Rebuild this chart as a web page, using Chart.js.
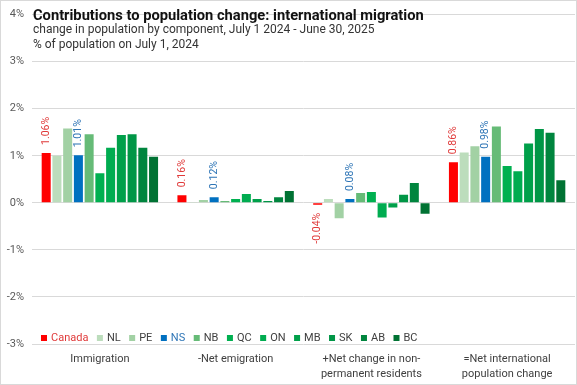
<!DOCTYPE html>
<html>
<head>
<meta charset="utf-8">
<script src="https://cdn.jsdelivr.net/npm/chart.js@4/dist/chart.umd.min.js"></script>
<style>
html,body{margin:0;padding:0;background:#fff;}
canvas{display:block;}
</style>
</head>
<body>
<canvas id="c" width="577" height="385"></canvas>
<script>
const categories = [
  "Immigration",
  "-Net emigration",
  ["+Net change in non-", "permanent residents"],
  ["=Net international", "population change"]
];
const regions = ["Canada","NL","PE","NS","NB","QC","ON","MB","SK","AB","BC"];
const canada = [1.06, 0.16, -0.04, 0.86];
const nl = [1.00, 0.02, 0.08, 1.07];
const pe = [1.58, 0.06, -0.33, 1.20];
const ns = [1.01, 0.12, 0.08, 0.98];
const nb = [1.46, 0.04, 0.21, 1.62];
const qc = [0.63, 0.08, 0.23, 0.78];
const on = [1.17, 0.19, -0.31, 0.67];
const mb = [1.44, 0.08, -0.10, 1.26];
const sk = [1.46, 0.04, 0.17, 1.57];
const ab = [1.17, 0.12, 0.42, 1.49];
const bc = [0.98, 0.25, -0.23, 0.48];
const yTicks = [-3, -2, -1, 0, 1, 2, 3, 4];
const titleText = "Contributions to population change: international migration";
const subtitleLines = ["change in population by component, July 1 2024 - June 30, 2025", "% of population on July 1, 2024"];

const seriesValues = [canada, nl, pe, ns, nb, qc, on, mb, sk, ab, bc];
const colors = ["#FF0000","#BCDDBC","#A2D1A4","#0070C0","#66BB77","#00B050","#00AC50","#00A04A","#009646","#00853E","#007233"];
const labelColors = {0: "#E03A3A", 3: "#2E75B6"};
const legendTextColors = {0: "#E03A3A", 3: "#2E75B6"};
const FONT = "Roboto, 'Liberation Sans', Arial, sans-serif";

const datasets = regions.map((r, i) => ({
  label: r,
  data: seriesValues[i],
  backgroundColor: colors[i],
  borderWidth: 0,
  barPercentage: 0.84,
  categoryPercentage: 0.87
}));

const decorPlugin = {
  id: 'decor',
  afterDraw(chart) {
    const ctx = chart.ctx;
    const area = chart.chartArea;
    ctx.save();
    // title
    ctx.fillStyle = "#111";
    ctx.textBaseline = "middle";
    ctx.textAlign = "left";
    ctx.font = "bold 14.7px " + FONT;
    ctx.fillText(titleText, 33, 16);
    ctx.fillStyle = "#333";
    ctx.font = "12px " + FONT;
    ctx.fillText(subtitleLines[0], 33, 30);
    ctx.fillText(subtitleLines[1], 33, 45);

    // data labels for Canada and NS
    ctx.font = "10.5px " + FONT;
    [0, 3].forEach(di => {
      const meta = chart.getDatasetMeta(di);
      meta.data.forEach((bar, j) => {
        const v = chart.data.datasets[di].data[j];
        const txt = v.toFixed(2) + "%";
        ctx.save();
        ctx.fillStyle = labelColors[di];
        ctx.textBaseline = "middle";
        ctx.translate(bar.x, v >= 0 ? bar.y - 8 : bar.y + 8);
        ctx.rotate(-Math.PI / 2);
        ctx.textAlign = v >= 0 ? "left" : "right";
        ctx.fillText(txt, 0, 0);
        ctx.restore();
      });
    });

    // legend inside plot area
    ctx.font = "11px " + FONT;
    ctx.textAlign = "left";
    ctx.textBaseline = "middle";
    let x = area.left + 9;
    const y = area.bottom - 6;
    regions.forEach((r, i) => {
      ctx.fillStyle = colors[i];
      ctx.fillRect(x, y - 3, 6, 6);
      ctx.fillStyle = legendTextColors[i] || "#404040";
      ctx.fillText(r, x + 10, y);
      x += 10 + ctx.measureText(r).width + 8.5;
    });

    // outer border
    ctx.strokeStyle = "#D9D9D9";
    ctx.lineWidth = 1;
    ctx.strokeRect(0.5, 0.5, chart.width - 1, chart.height - 1);
    ctx.restore();
  }
};

new Chart(document.getElementById('c'), {
  type: 'bar',
  data: { labels: categories, datasets },
  options: {
    responsive: false,
    animation: false,
    devicePixelRatio: 1,
    layout: { padding: { top: 7, right: 2, left: 0, bottom: 0 } },
    plugins: {
      legend: { display: false },
      title: { display: false },
      tooltip: { enabled: false }
    },
    scales: {
      x: {
        grid: { display: false, drawTicks: false },
        border: { display: false },
        ticks: {
          color: "#404040",
          font: { size: 11, family: FONT, lineHeight: 1.35 },
          padding: 8,
          maxRotation: 0,
          autoSkip: false
        },
        afterFit(scale) { scale.height = 41; }
      },
      y: {
        min: -3,
        max: 4,
        afterBuildTicks(scale) { scale.ticks = yTicks.map(v => ({ value: v })); },
        grid: { color: "#D9D9D9", drawTicks: false, lineWidth: 1 },
        border: { display: false },
        ticks: {
          color: "#595959",
          font: { size: 11, family: FONT },
          padding: 8,
          callback: v => v + "%"
        },
        afterFit(scale) { scale.width = 32; }
      }
    }
  },
  plugins: [decorPlugin]
});
</script>
</body>
</html>
